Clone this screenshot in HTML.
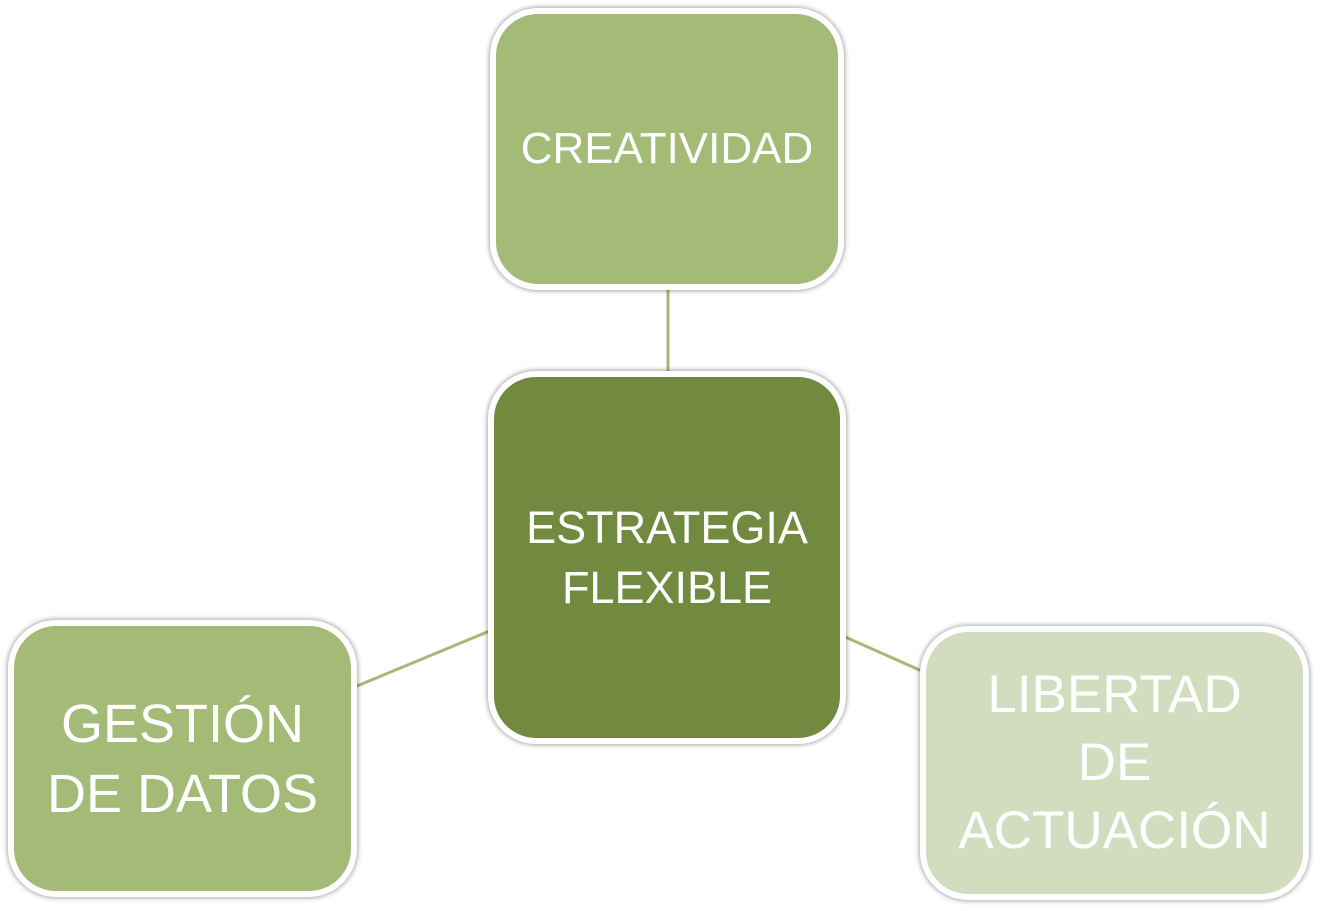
<!DOCTYPE html>
<html><head><meta charset="utf-8"><style>
html,body{margin:0;padding:0;background:#fff;}
body{width:1344px;height:911px;position:relative;overflow:hidden;font-family:"Liberation Sans",sans-serif;}
.b{position:absolute;box-sizing:border-box;border:6px solid #fff;border-radius:48px;box-shadow:0 0 5px 1px rgba(0,0,0,0.35);color:#fff;display:flex;align-items:center;justify-content:center;text-align:center;white-space:nowrap;}
svg{position:absolute;left:0;top:0;}
</style></head><body>
<svg width="1344" height="911"><g stroke="#a3bb77" stroke-width="3"><line x1="668" y1="288" x2="668" y2="375"/><line x1="357" y1="686" x2="492" y2="630"/><line x1="843" y1="636" x2="924" y2="672"/></g></svg>
<div class="b" style="left:490px;top:8px;width:354px;height:282px;background:#a3bb77;font-size:44px;line-height:46px;">CREATIVIDAD</div>
<div class="b" style="left:488px;top:371px;width:358px;height:373px;background:#728a40;font-size:45px;line-height:60px;">ESTRATEGIA<br>FLEXIBLE</div>
<div class="b" style="left:8px;top:620px;width:349px;height:277px;background:#a3bb77;font-size:54px;line-height:70px;">GESTIÓN<br>DE DATOS</div>
<div class="b" style="left:920px;top:626px;width:389px;height:274px;background:#d1ddbe;font-size:53px;line-height:68px;">LIBERTAD<br>DE<br>ACTUACIÓN</div>
</body></html>
